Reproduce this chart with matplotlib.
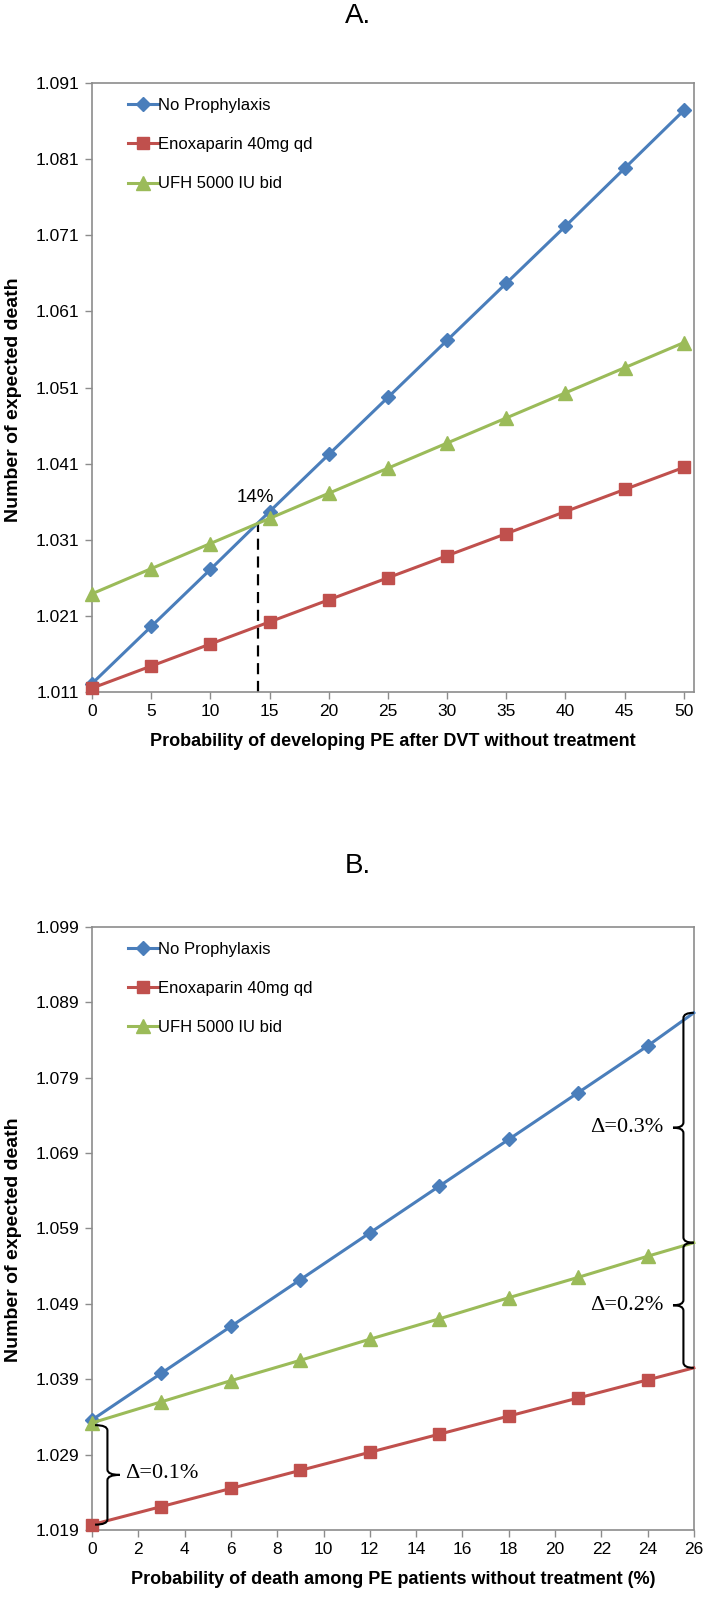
# Expected deaths vs PE probability (A) and PE death probability (B)
import matplotlib
matplotlib.use("Agg")
import matplotlib.pyplot as plt
from matplotlib.path import Path
from matplotlib.patches import PathPatch

# Panel A data
x_a = [0, 5, 10, 15, 20, 25, 30, 35, 40, 45, 50]
no_proph_a = [1.0121, 1.0196, 1.0271, 1.0347, 1.0422, 1.0497, 1.0572, 1.0647, 1.0722, 1.0798, 1.0874]
enox_a = [1.0115, 1.0144, 1.0173, 1.0202, 1.0231, 1.0260, 1.0289, 1.0318, 1.0347, 1.0376, 1.0405]
ufh_a = [1.0239, 1.0272, 1.0305, 1.0338, 1.0371, 1.0404, 1.0437, 1.0470, 1.0503, 1.0536, 1.0569]
cross_x = 14
cross_y = 1.0332

# Panel B data (last point sits on the right edge, no marker)
x_b = [0, 3, 6, 9, 12, 15, 18, 21, 24, 26]
no_proph_b = [1.0336, 1.0398, 1.0460, 1.0522, 1.0584, 1.0646, 1.0708, 1.0770, 1.0832, 1.0876]
enox_b = [1.0197, 1.0221, 1.0245, 1.0269, 1.0293, 1.0317, 1.0341, 1.0365, 1.0389, 1.0405]
ufh_b = [1.0332, 1.0360, 1.0388, 1.0415, 1.0443, 1.0470, 1.0498, 1.0525, 1.0553, 1.0571]

labels = ["No Prophylaxis", "Enoxaparin 40mg qd", "UFH 5000 IU bid"]
yticks_a = [1.011, 1.021, 1.031, 1.041, 1.051, 1.061, 1.071, 1.081, 1.091]
yticks_b = [1.019, 1.029, 1.039, 1.049, 1.059, 1.069, 1.079, 1.089, 1.099]
xticks_a = list(range(0, 51, 5))
xticks_b = list(range(0, 27, 2))

BLUE = "#4a7ebb"
RED = "#c0504d"
GREEN = "#9bbb59"
GRAY = "#8c8c8c"
SANS = ["Liberation Sans", "DejaVu Sans"]
SERIF = ["Liberation Serif", "DejaVu Serif"]

fig = plt.figure(figsize=(7.08, 15.98), dpi=100)
ax_a = fig.add_axes([0.130, 0.567, 0.850, 0.381])
ax_b = fig.add_axes([0.130, 0.0426, 0.850, 0.3774])


def draw_series(ax, x, series, marks):
    styles = [(BLUE, "D", 7.5), (RED, "s", 8.5), (GREEN, "^", 10)]
    for ys, lab, (c, m, ms) in zip(series, labels, styles):
        ax.plot(x, ys, color=c, lw=2.2, marker=m, ms=ms, markevery=marks,
                label=lab, clip_on=False, zorder=3)


def style_axes(ax, xticks, yticks, xlim, xlabel):
    ax.set_xlim(*xlim)
    ax.set_ylim(yticks[0], yticks[-1])
    ax.set_xticks(xticks)
    ax.set_yticks(yticks)
    ax.set_yticklabels([f"{v:.3f}" for v in yticks], family=SANS, fontsize=12.5)
    ax.set_xticklabels([str(v) for v in xticks], family=SANS, fontsize=12.5)
    ax.tick_params(direction="out", length=5, color=GRAY, width=1, pad=4)
    for s in ax.spines.values():
        s.set_color(GRAY)
        s.set_linewidth(1.2)
    ax.set_xlabel(xlabel, family=SANS, fontsize=13, fontweight="bold", labelpad=10)
    ax.legend(loc="upper left", bbox_to_anchor=(0.035, 1.0), frameon=False,
              prop={"family": SANS, "size": 12}, handlelength=1.8,
              handletextpad=0.0, labelspacing=1.45, numpoints=1)


# Panel A
draw_series(ax_a, x_a, [no_proph_a, enox_a, ufh_a], None)
style_axes(ax_a, xticks_a, yticks_a, (0, 50.85),
           "Probability of developing PE after DVT without treatment")
ax_a.plot([cross_x, cross_x], [yticks_a[0], cross_y], color="black", lw=1.6,
          ls=(0, (5, 3)), zorder=2)
ax_a.text(cross_x - 0.2, cross_y + 0.0034, "14%", family=SANS, fontsize=13.5,
          ha="center", va="center")

# Panel B
draw_series(ax_b, x_b, [no_proph_b, enox_b, ufh_b], list(range(9)))
style_axes(ax_b, xticks_b, yticks_b, (0, 26),
           "Probability of death among PE patients without treatment (%)")


def brace(ax, x_end, x_tip, y_top, y_bot, r=0.0007):
    xs = (x_end + x_tip) / 2
    ym = (y_top + y_bot) / 2
    verts = [(x_end, y_top), (xs, y_top), (xs, y_top - r),
             (xs, ym + r), (xs, ym), (x_tip, ym),
             (xs, ym), (xs, ym - r),
             (xs, y_bot + r), (xs, y_bot), (x_end, y_bot)]
    codes = [Path.MOVETO, Path.CURVE3, Path.CURVE3,
             Path.LINETO, Path.CURVE3, Path.CURVE3,
             Path.CURVE3, Path.CURVE3,
             Path.LINETO, Path.CURVE3, Path.CURVE3]
    ax.add_patch(PathPatch(Path(verts, codes), fill=False, lw=1.5,
                           color="black", clip_on=False, zorder=4))


brace(ax_b, 0.13, 1.2, ufh_b[0] - 0.0003, enox_b[0])
ax_b.text(1.45, (ufh_b[0] + enox_b[0]) / 2, "Δ=0.1%", family=SERIF,
          fontsize=16, ha="left", va="center")
brace(ax_b, 26.0, 25.1, no_proph_b[-1], ufh_b[-1])
ax_b.text(24.7, (no_proph_b[-1] + ufh_b[-1]) / 2, "Δ=0.3%", family=SERIF,
          fontsize=16, ha="right", va="center")
brace(ax_b, 26.0, 25.1, ufh_b[-1], enox_b[-1])
ax_b.text(24.7, (ufh_b[-1] + enox_b[-1]) / 2, "Δ=0.2%", family=SERIF,
          fontsize=16, ha="right", va="center")

# y labels and panel letters
fig.text(0.019, 0.750, "Number of expected death", rotation=90, family=SANS,
         fontsize=14, fontweight="bold", ha="center", va="center")
fig.text(0.019, 0.224, "Number of expected death", rotation=90, family=SANS,
         fontsize=14, fontweight="bold", ha="center", va="center")
fig.text(0.505, 0.990, "A.", family=SANS, fontsize=20, ha="center", va="center")
fig.text(0.505, 0.458, "B.", family=SANS, fontsize=20, ha="center", va="center")

fig.savefig("out.png", dpi=100)
